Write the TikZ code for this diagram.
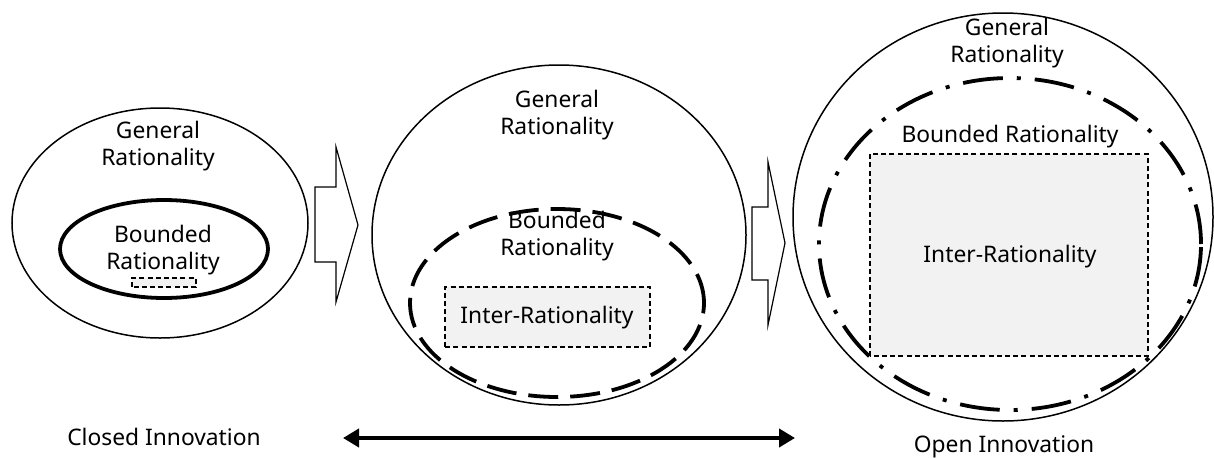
\documentclass[tikz,border=0pt]{standalone}
\usepackage{fontspec}
\setmainfont{Noto Sans}
\usepackage{tikz}
\usetikzlibrary{arrows.meta}
\definecolor{boxgray}{HTML}{F2F2F2}
\tikzset{
  lbl/.style={align=center,font=\fontsize{11.4}{13.5}\selectfont,inner sep=0pt},
  thinline/.style={line width=0.75pt},
  interbox/.style={fill=boxgray,draw,line width=0.6pt,dash pattern=on 2.5pt off 1.6pt},
  blockarrow/.style={draw,fill=white,line width=0.6pt}
}
\begin{document}
\begin{tikzpicture}[x=0.5pt,y=0.5pt]
    \useasboundingbox (0,0) rectangle (1214,457);
    % closed
    \draw[thinline] (160,234) ellipse [x radius=148,y radius=115];
    \draw[line width=1.9pt] (164,208) ellipse [x radius=104,y radius=49];
    \draw[interbox] (132,170) rectangle (196,179);
    \node[lbl] (genA) at (158,311) {General\\Rationality};
    \node[lbl] (bndA) at (163,207) {Bounded\\Rationality};
    % middle
    \draw[thinline] (559,222) ellipse [x radius=187,y radius=170];
    \draw[line width=1.9pt,dash pattern=on 15pt off 6pt] (557,154) ellipse [x radius=147,y radius=94];
    \draw[interbox] (445,110) rectangle (650,170);
    \node[lbl] (genB) at (557,342) {General\\Rationality};
    \node[lbl] (bndB) at (557,221) {Bounded\\Rationality};
    \node[lbl] (intB) at (547,139) {Inter-Rationality};
    % open
    \draw[thinline] (1003,240) ellipse [x radius=210,y radius=204];
    \draw[line width=1.9pt,dash pattern=on 20pt off 7pt on 2pt off 7pt] (1010,213) ellipse [x radius=191,y radius=166];
    \draw[interbox] (870,101) rectangle (1148,303);
    \node[lbl] (genC) at (1007,414) {General\\Rationality};
    \node[lbl] (bndC) at (1010,320) {Bounded Rationality};
    \node[lbl] (intC) at (1010,200) {Inter-Rationality};
    % block arrows
    \foreach \xa/\xb/\xc/\ya/\yb/\yc/\yd/\ym in {315/336/358/270/195/310/155/232, 752/768/785/250/177/295/132/214}
    {
      \draw[blockarrow] (\xa,\ya) -- (\xb,\ya) -- (\xb,\yc) -- (\xc,\ym) -- (\xb,\yd) -- (\xb,\yb) -- (\xa,\yb) -- cycle;
    }
    % bottom
    \node[lbl] (closed) at (164,20) {Closed Innovation};
    \node[lbl] (open) at (1004,10) {Open Innovation};
    \coordinate (left) at (343,19);
    \coordinate (right) at (795,19);
    \draw[line width=2pt,{Triangle[length=8pt,width=9pt]}-{Triangle[length=8pt,width=9pt]}] (left) -- (right);
\end{tikzpicture}
\end{document}
